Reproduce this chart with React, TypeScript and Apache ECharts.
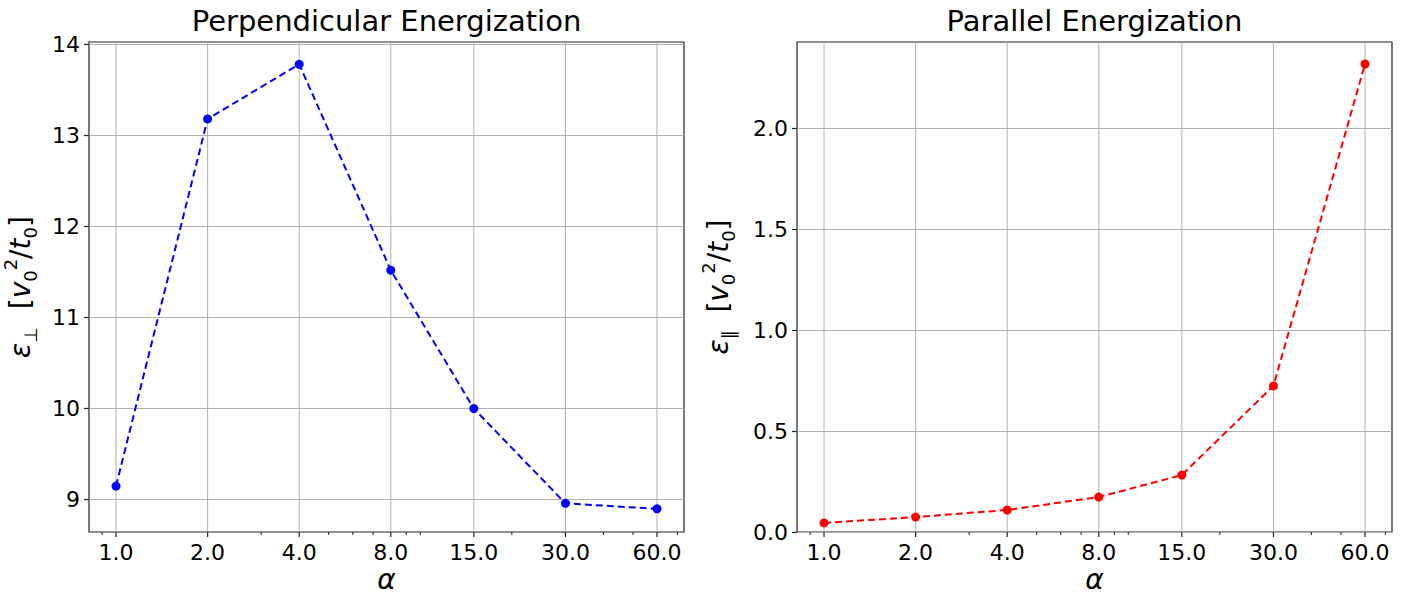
import React, { useEffect, useRef } from "react";
import * as echarts from "echarts";

const xValues = [1, 2, 4, 8, 15, 30, 60];
const perpValues = [9.15, 13.18, 13.78, 11.52, 10.0, 8.96, 8.9];
const paraValues = [0.045, 0.074, 0.109, 0.173, 0.282, 0.723, 2.317];
const xMajorTicks = [1, 2, 4, 8, 15, 30, 60];
const xMinorTicks = [0.9, 3, 5, 6, 7, 9, 10, 20, 40, 50, 70];
const perpYTicks = [9, 10, 11, 12, 13, 14];
const paraYTicks = [0, 0.5, 1.0, 1.5, 2.0];
const titles = ["Perpendicular Energization", "Parallel Energization"];

const FONT = "DejaVu Sans";
const TICK_FONT = 22;

function tickSeries(gridIndex: number, ticks: number[], major: boolean, yBase: number) {
  return {
    type: "custom",
    xAxisIndex: gridIndex,
    yAxisIndex: gridIndex,
    clip: false,
    silent: true,
    z: 1,
    data: ticks.map((t) => [t, yBase]),
    renderItem: (params: any, api: any) => {
      const cs = params.coordSys;
      const v = api.value(0);
      const x = api.coord([v, yBase])[0];
      const bottom = cs.y + cs.height;
      const top = cs.y;
      const children: any[] = [];
      if (major) {
        children.push({
          type: "line",
          shape: { x1: x, y1: top, x2: x, y2: bottom },
          style: { stroke: "#b0b0b0", lineWidth: 1 },
        });
        children.push({
          type: "line",
          shape: { x1: x, y1: bottom, x2: x, y2: bottom + 5 },
          style: { stroke: "#222", lineWidth: 1.2 },
        });
        children.push({
          type: "text",
          x: x,
          y: bottom + 9,
          style: {
            text: v.toFixed(1),
            textAlign: "center",
            textVerticalAlign: "top",
            fontSize: TICK_FONT,
            fontFamily: FONT,
            fill: "#000",
          },
        });
      } else {
        children.push({
          type: "line",
          shape: { x1: x, y1: bottom, x2: x, y2: bottom + 3 },
          style: { stroke: "#222", lineWidth: 1 },
        });
      }
      return { type: "group", children };
    },
  };
}

function yName(sym: string) {
  return `{i|ε}{s|${sym}}{n|  [}{i|v}{s|0}{p|2}{n|/}{i|t}{s|0}{n|]}`;
}

const nameRich = {
  i: { fontStyle: "italic", fontSize: 28, fontFamily: FONT, lineHeight: 38, verticalAlign: "middle", color: "#000" },
  n: { fontSize: 28, fontFamily: FONT, lineHeight: 38, verticalAlign: "middle", color: "#000" },
  s: { fontSize: 18, fontFamily: FONT, lineHeight: 19, verticalAlign: "bottom", color: "#000" },
  p: { fontSize: 18, fontFamily: FONT, lineHeight: 19, verticalAlign: "top", color: "#000" },
};

export default function App() {
  const ref = useRef<HTMLDivElement>(null);
  useEffect(() => {
    if (!ref.current) return;
    const chart = echarts.init(ref.current, null, { renderer: "svg" });
    const grids = [
      { left: 89, top: 42, width: 595, height: 490 },
      { left: 797, top: 42, width: 595, height: 490 },
    ];
    const xAxis = grids.map((_, i) => ({
      type: "log",
      logBase: 2,
      gridIndex: i,
      min: 0.815,
      max: 73.6,
      name: "α",
      nameLocation: "middle",
      nameGap: 33,
      nameTextStyle: { fontSize: 28, fontStyle: "italic", fontFamily: FONT, color: "#000" },
      axisLine: { show: false },
      axisTick: { show: false },
      axisLabel: { show: false },
      splitLine: { show: false },
      minorTick: { show: false },
      minorSplitLine: { show: false },
    }));
    const yCommon = {
      type: "value",
      nameLocation: "middle",
      nameRotate: 90,
      axisLine: { show: false },
      axisTick: { show: true, length: 5, lineStyle: { color: "#222", width: 1.2 } },
      splitLine: { show: true, lineStyle: { color: "#b0b0b0", width: 1 } },
    };
    const yAxis = [
      {
        ...yCommon,
        gridIndex: 0,
        min: 8.6455,
        max: 14.0245,
        name: yName("⊥"),
        nameGap: 50,
        nameTextStyle: { rich: nameRich },
        axisTick: { ...yCommon.axisTick, customValues: perpYTicks },
        axisLabel: {
          customValues: perpYTicks,
          margin: 9,
          fontSize: TICK_FONT,
          fontFamily: FONT,
          color: "#000",
          formatter: (v: number) => String(Math.round(v)),
        },
      },
      {
        ...yCommon,
        gridIndex: 1,
        min: 0,
        max: 2.426,
        name: yName("∥"),
        nameGap: 60,
        nameTextStyle: { rich: nameRich },
        axisTick: { ...yCommon.axisTick, customValues: paraYTicks },
        axisLabel: {
          customValues: paraYTicks,
          margin: 9,
          fontSize: TICK_FONT,
          fontFamily: FONT,
          color: "#000",
          formatter: (v: number) => v.toFixed(1),
        },
      },
    ];
    const lineSeries = (i: number, vals: number[], color: string) => ({
      type: "line",
      xAxisIndex: i,
      yAxisIndex: i,
      data: xValues.map((x, k) => [x, vals[k]]),
      symbol: "circle",
      symbolSize: 9,
      z: 3,
      itemStyle: { color },
      lineStyle: { color, width: 2, type: [7, 4] },
    });
    chart.setOption({
      animation: false,
      grid: grids.map((g) => ({ ...g, show: true, borderColor: "#222", borderWidth: 1.2, backgroundColor: "transparent" })),
      xAxis,
      yAxis,
      graphic: [
        {
          type: "text",
          x: 89 + 595 / 2,
          y: 21,
          style: { text: titles[0], textAlign: "center", textVerticalAlign: "middle", fontSize: 29, fontFamily: FONT, fill: "#000" },
        },
        {
          type: "text",
          x: 797 + 595 / 2,
          y: 21,
          style: { text: titles[1], textAlign: "center", textVerticalAlign: "middle", fontSize: 29, fontFamily: FONT, fill: "#000" },
        },
      ],
      series: [
        tickSeries(0, xMajorTicks, true, 8.6455),
        tickSeries(0, xMinorTicks, false, 8.6455),
        tickSeries(1, xMajorTicks, true, 0),
        tickSeries(1, xMinorTicks, false, 0),
        lineSeries(0, perpValues, "#0000ff"),
        lineSeries(1, paraValues, "#ff0000"),
      ],
    });
    return () => chart.dispose();
  }, []);
  return (
    <div
      ref={ref}
      style={{ position: "fixed", left: 0, top: 0, width: 1417, height: 599, background: "#fff" }}
    />
  );
}
